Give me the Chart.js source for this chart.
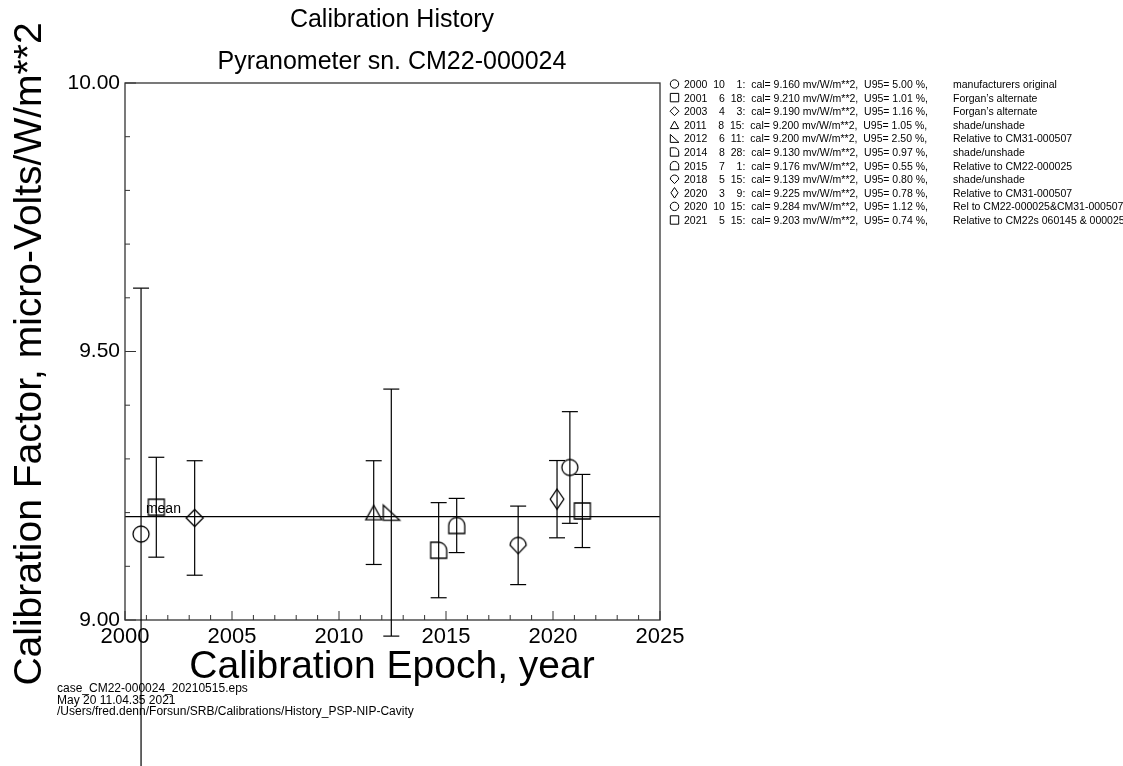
<!DOCTYPE html>
<html>
<head>
<meta charset="utf-8">
<title>Calibration History</title>
<script src="https://cdn.jsdelivr.net/npm/chart.js@4.4.1/dist/chart.umd.min.js"></script>
<style>
  html, body { margin: 0; padding: 0; background: #fff; }
  #wrap { width: 1123px; height: 766px; }
</style>
</head>
<body>
<div id="wrap"><canvas id="myChart" width="1123" height="766"></canvas></div>
<script>
// calibration records
const calYear  = [2000, 2001, 2003, 2011, 2012, 2014, 2015, 2018, 2020, 2020, 2021];
const calMonth = [10, 6, 4, 8, 6, 8, 7, 5, 3, 10, 5];
const calDay   = [1, 18, 3, 15, 11, 28, 1, 15, 9, 15, 15];
const calValue = [9.160, 9.210, 9.190, 9.200, 9.200, 9.130, 9.176, 9.139, 9.225, 9.284, 9.203];
const u95      = [5.00, 1.01, 1.16, 1.05, 2.50, 0.97, 0.55, 0.80, 0.78, 1.12, 0.74];
const calNote  = [
  'manufacturers original',
  'Forgan\u2019s alternate',
  'Forgan\u2019s alternate',
  'shade/unshade',
  'Relative to CM31-000507',
  'shade/unshade',
  'Relative to CM22-000025',
  'shade/unshade',
  'Relative to CM31-000507',
  'Rel to CM22-000025&CM31-000507',
  'Relative to CM22s 060145 & 000025'
];
const markerShape = ['circle', 'square', 'diamond', 'triangle', 'rightTri', 'quarter',
                     'dome', 'bulb', 'slimDiamond', 'circle', 'square'];

const xTicks = [2000, 2005, 2010, 2015, 2020, 2025];
const yTicks = [9.00, 9.50, 10.00];

const chartTitle = ['Calibration History', 'Pyranometer sn. CM22-000024'];
const xTitle = 'Calibration Epoch, year';
const yTitle = 'Calibration Factor, micro-Volts/W/m**2';
const footer = [
  'case_CM22-000024_20210515.eps',
  'May 20 11.04.35 2021',
  '/Users/fred.denn/Forsun/SRB/Calibrations/History_PSP-NIP-Cavity'
];

const FONT = '"Liberation Sans", Arial, Helvetica, sans-serif';

// decimal year of each calibration
const epoch = calYear.map((y, i) => y + (calMonth[i] - 1) / 12 + (calDay[i] - 1) / 365);
const meanCal = calValue.reduce((a, b) => a + b, 0) / calValue.length;

function tracePath(g, shape, r) {
  g.beginPath();
  switch (shape) {
    case 'circle':
      g.arc(0, 0, r, 0, Math.PI * 2);
      break;
    case 'square':
      g.rect(-r, -r, 2 * r, 2 * r);
      break;
    case 'diamond':
      g.moveTo(0, -r * 1.06); g.lineTo(r * 1.06, 0); g.lineTo(0, r * 1.06); g.lineTo(-r * 1.06, 0);
      g.closePath();
      break;
    case 'triangle':
      g.moveTo(0, -r * 0.9); g.lineTo(r, r * 0.9); g.lineTo(-r, r * 0.9);
      g.closePath();
      break;
    case 'rightTri':
      g.moveTo(-r, -r * 0.95); g.lineTo(-r, r * 0.95); g.lineTo(r * 1.05, r * 0.95);
      g.closePath();
      break;
    case 'quarter':
      g.moveTo(-r, -r); g.lineTo(0, -r); g.arc(0, 0, r, -Math.PI / 2, 0);
      g.lineTo(r, r); g.lineTo(-r, r);
      g.closePath();
      break;
    case 'dome':
      g.arc(0, 0, r, Math.PI, Math.PI * 2);
      g.lineTo(r, r); g.lineTo(-r, r);
      g.closePath();
      break;
    case 'bulb':
      g.moveTo(0, r * 1.05); g.lineTo(-r, 0); g.arc(0, 0, r, Math.PI, Math.PI * 2);
      g.closePath();
      break;
    case 'slimDiamond':
      g.moveTo(0, -r * 1.25); g.lineTo(r * 0.85, 0); g.lineTo(0, r * 1.25); g.lineTo(-r * 0.85, 0);
      g.closePath();
      break;
  }
}

function markerCanvas(shape, r) {
  const c = document.createElement('canvas');
  const size = Math.ceil(r * 3);
  c.width = c.height = size;
  const g = c.getContext('2d');
  g.translate(size / 2, size / 2);
  g.strokeStyle = '#000';
  g.lineWidth = 1.3;
  tracePath(g, shape, r);
  g.stroke();
  return c;
}

const markers = markerShape.map(s => markerCanvas(s, 8));

function line(ctx, x1, y1, x2, y2) {
  ctx.beginPath();
  ctx.moveTo(x1, y1);
  ctx.lineTo(x2, y2);
  ctx.stroke();
}

const decor = {
  id: 'decor',
  afterDatasetsDraw(chart) {
    const { ctx, chartArea: a, scales: { x, y } } = chart;
    ctx.save();
    // box
    ctx.strokeStyle = '#333';
    ctx.lineWidth = 1.3;
    ctx.strokeRect(a.left, a.top, a.right - a.left, a.bottom - a.top);
    // inside ticks
    ctx.lineWidth = 1;
    for (let yr = 2000; yr <= 2025; yr++) {
      const px = x.getPixelForValue(yr);
      line(ctx, px, a.bottom, px, a.bottom - (yr % 5 === 0 ? 9 : 5));
    }
    for (let k = 0; k <= 10; k++) {
      const py = y.getPixelForValue(9 + k / 10);
      line(ctx, a.left, py, a.left + (k % 5 === 0 ? 11 : 5), py);
    }
    // error bars (not clipped)
    ctx.strokeStyle = '#000';
    ctx.lineWidth = 1.2;
    calValue.forEach((v, i) => {
      const px = x.getPixelForValue(epoch[i]);
      const d = v * u95[i] / 100;
      const top = y.getPixelForValue(v + d);
      const bot = y.getPixelForValue(v - d);
      line(ctx, px, top, px, bot);
      line(ctx, px - 8, top, px + 8, top);
      line(ctx, px - 8, bot, px + 8, bot);
    });
    // mean label
    ctx.fillStyle = '#000';
    ctx.font = '14px ' + FONT;
    ctx.textBaseline = 'alphabetic';
    ctx.textAlign = 'left';
    ctx.fillText('mean', x.getPixelForValue(2001) - 0.5, y.getPixelForValue(meanCal) - 4);
    ctx.restore();
  },
  afterDraw(chart) {
    const { ctx } = chart;
    ctx.save();
    ctx.fillStyle = '#000';
    ctx.textBaseline = 'alphabetic';

    // titles
    ctx.textAlign = 'center';
    ctx.font = '25px ' + FONT;
    ctx.fillText(chartTitle[0], 392, 27);
    ctx.fillText(chartTitle[1], 392, 69);

    ctx.font = '39px ' + FONT;
    ctx.fillText(xTitle, 392, 678);

    ctx.save();
    ctx.translate(41, 354);
    ctx.rotate(-Math.PI / 2);
    ctx.fillText(yTitle, 0, 0);
    ctx.restore();

    // footer
    ctx.textAlign = 'left';
    ctx.font = '12px ' + FONT;
    footer.forEach((t, i) => ctx.fillText(t, 57, 692 + i * 11.5));

    // legend
    ctx.font = '10.5px ' + FONT;
    ctx.strokeStyle = '#000';
    ctx.lineWidth = 1;
    const fig = '\u2007';
    calValue.forEach((v, i) => {
      const cy = 84 + i * 13.6;
      ctx.save();
      ctx.translate(674.5, cy);
      tracePath(ctx, markerShape[i], 4.2);
      ctx.stroke();
      ctx.restore();
      const txt = calYear[i] + '  ' + String(calMonth[i]).padStart(2, fig) + '  ' +
        String(calDay[i]).padStart(2, fig) + ':  cal= ' + v.toFixed(3) + ' mv/W/m**2,  U95= ' +
        u95[i].toFixed(2) + ' %,';
      ctx.fillText(txt, 684, cy + 4);
      ctx.fillText(calNote[i], 953, cy + 4);
    });
    ctx.restore();
  }
};

const data = {
  datasets: [
    {
      type: 'scatter',
      label: 'calibrations',
      data: epoch.map((e, i) => ({ x: e, y: calValue[i] })),
      pointStyle: markers,
      pointRadius: 8,
      borderColor: '#000',
      backgroundColor: 'rgba(0,0,0,0)'
    },
    {
      type: 'line',
      label: 'mean',
      data: [{ x: 2000, y: meanCal }, { x: 2025, y: meanCal }],
      borderColor: '#000',
      borderWidth: 1.2,
      pointRadius: 0,
      fill: false
    }
  ]
};

const config = {
  type: 'scatter',
  data,
  options: {
    responsive: false,
    animation: false,
    events: [],
    layout: { padding: { top: 83, right: 463, left: 0, bottom: 0 } },
    plugins: { legend: { display: false }, tooltip: { enabled: false }, title: { display: false } },
    scales: {
      x: {
        type: 'linear',
        min: 2000,
        max: 2025,
        grid: { display: false, drawTicks: false },
        border: { display: false },
        afterBuildTicks: s => { s.ticks = xTicks.map(v => ({ value: v })); },
        afterFit: s => { s.height = 146; },
        ticks: { color: '#000', font: { size: 22, family: FONT }, padding: 4, maxRotation: 0,
                 autoSkip: false, callback: v => String(v) }
      },
      y: {
        type: 'linear',
        min: 9,
        max: 10,
        grid: { display: false, drawTicks: false },
        border: { display: false },
        afterBuildTicks: s => { s.ticks = yTicks.map(v => ({ value: v })); },
        afterFit: s => { s.width = 125; },
        ticks: { color: '#000', font: { size: 21, family: FONT }, padding: 5,
                 callback: v => Number(v).toFixed(2) }
      }
    }
  },
  plugins: [decor]
};

const myChart = new Chart(document.getElementById('myChart'), config);
</script>
</body>
</html>
